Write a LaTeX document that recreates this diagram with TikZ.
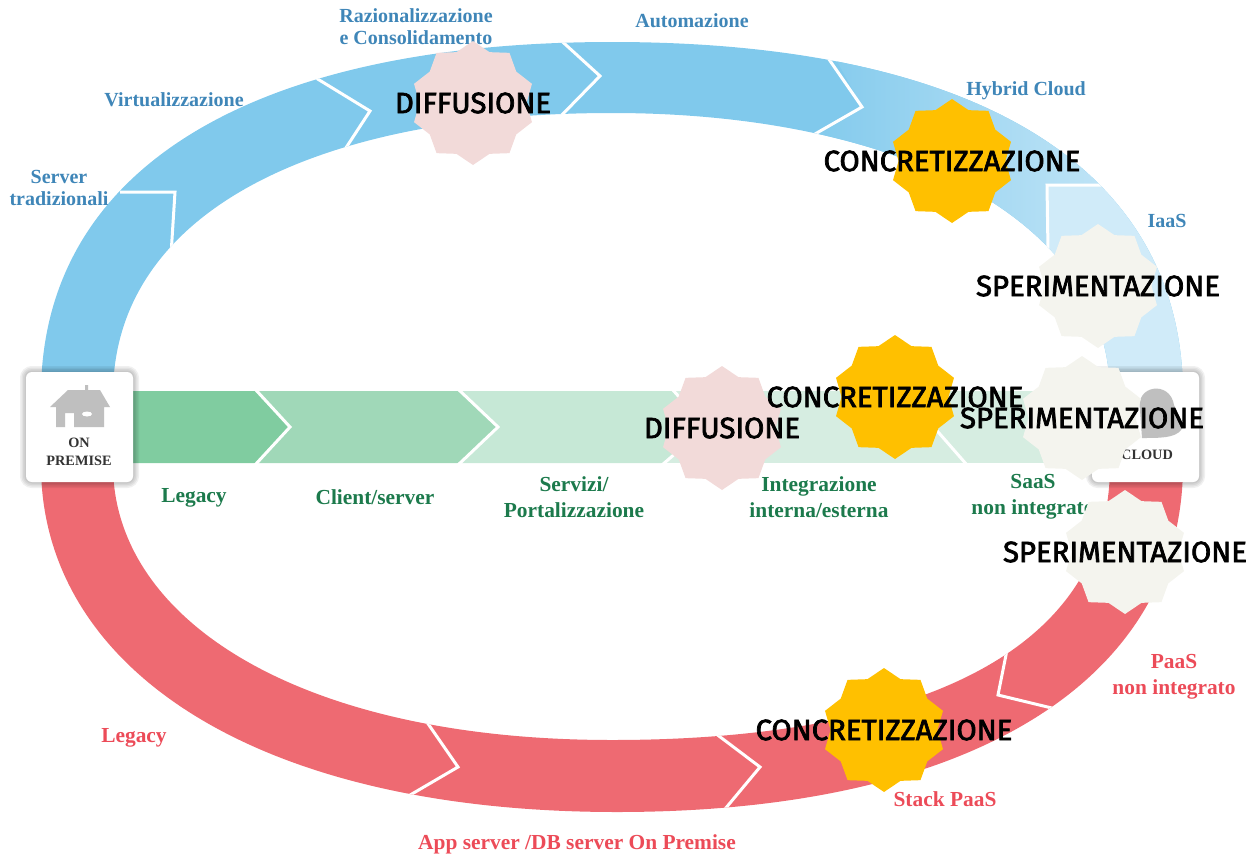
\documentclass[tikz,border=0pt]{standalone}
\usepackage{fontspec}
\setmainfont{Liberation Serif}
\newfontfamily\starfont[FakeBold=2.5]{Fira Sans}
\usetikzlibrary{%
  positioning
 ,shapes.geometric
}
\definecolor{ringblue}{HTML}{80C9EC}
\definecolor{ringpale}{HTML}{D0EBF9}
\definecolor{ringred}{HTML}{EE6A72}
\definecolor{greenA}{HTML}{80CCA0}
\definecolor{greenB}{HTML}{A0D8B8}
\definecolor{greenC}{HTML}{C6E8D6}
\definecolor{greenD}{HTML}{D6EDE1}
\definecolor{txtblue}{HTML}{3F86B8}
\definecolor{txtgreen}{HTML}{1C7A4C}
\definecolor{txtred}{HTML}{EC4B58}
\definecolor{starpink}{HTML}{F2DAD9}
\definecolor{staryellow}{HTML}{FFC000}
\definecolor{stargrey}{HTML}{F4F4EE}
\tikzstyle{st}=[star,star points=10,star point ratio=1.16,minimum size=124pt,inner sep=0pt,draw=none]
\tikzstyle{stxt}=[font=\starfont\fontsize{29.3}{30}\selectfont,text=black,inner sep=0pt]
\tikzstyle{lblue}=[font=\bfseries\fontsize{20}{22}\selectfont,text=txtblue,align=center,inner sep=0pt]
\tikzstyle{lgreen}=[font=\bfseries\fontsize{21.4}{26}\selectfont,text=txtgreen,align=center,inner sep=0pt]
\tikzstyle{lred}=[font=\bfseries\fontsize{21.4}{26}\selectfont,text=txtred,align=center,inner sep=0pt]
\tikzstyle{chev}=[draw=white,line width=3pt,line join=miter]
\tikzstyle{bx}=[rounded corners=6pt]
\newcommand{\bandup}{(41,395) .. controls (41,170) and (250,42) .. (612,42) .. controls (980,42) and (1183,170) .. (1183,395) -- (1110,395) .. controls (1110,220) and (900,113) .. (612,113) .. controls (310,113) and (113,215) .. (113,395) -- cycle}
\newcommand{\banddown}{(41,465) .. controls (41,665) and (250,812) .. (617,812) .. controls (980,812) and (1183,675) .. (1183,465) -- (1110,465) .. controls (1110,670) and (880,740) .. (612,740) .. controls (300,740) and (113,620) .. (113,465) -- cycle}
\newcommand{\softbox}[4]{% x1,y1,x2,y2
  \foreach \w in {3,6,9,12}
    \draw[bx,draw=black,opacity=.06,line width=\w pt] (#1,#2) rectangle (#3,#4);
  \fill[bx,white] (#1,#2) rectangle (#3,#4);
}
\begin{document}
\begin{tikzpicture}[x=1pt,y=-1pt]
  \useasboundingbox (0,0) rectangle (1251,855);
  % the upper ring
  \fill[ringblue] \bandup;
  \begin{scope}
    \clip \bandup;
    \shade[left color=ringblue,right color=ringpale!85!ringblue,shading angle=90]
      (820,30) -- (862,107) -- (800,143) -- (1048,270) -- (1047,185) -- (1130,185) -- (1130,30) -- cycle;
    \fill[ringpale] (1047,185) -- (1210,185) -- (1210,430) -- (1048,430) -- cycle;
    \draw[chev] (120,192) -- (175,192) -- (171,255);
    \draw[chev] (316,78) -- (370,111) -- (338,160);
    \draw[chev] (555,35) -- (600,76) -- (555,122);
    \draw[chev] (826,55) -- (862,107) -- (808,138);
    \draw[chev] (1105,185) -- (1047,185) -- (1048,250);
  \end{scope}
  % the lower ring
  \fill[ringred] \banddown;
  \begin{scope}
    \clip \banddown;
    \draw[chev] (422,715) -- (458,767) -- (405,798);
    \draw[chev] (707,727) -- (760,767) -- (720,815);
    \draw[chev] (1010,635) -- (998,695) -- (1060,710);
  \end{scope}
  % the green arrow
  \fill[greenD] (660,391) -- (1050,391) -- (1050,463) -- (660,463) -- cycle;
  \fill[greenC] (458,391) -- (672,391) -- (706,427) -- (664,463) -- (458,463) -- (498,427) -- cycle;
  \fill[greenB] (255,391) -- (458,391) -- (498,427) -- (458,463) -- (255,463) -- (290,427) -- cycle;
  \fill[greenA] (120,391) -- (255,391) -- (290,427) -- (255,463) -- (120,463) -- cycle;
  \draw[chev] (255,389) -- (290,427) -- (255,465);
  \draw[chev] (458,389) -- (498,427) -- (458,465);
  \draw[chev] (672,389) -- (706,427) -- (662,465);
  \draw[chev] (932,425) -- (967,465);
  % the boxes
  \softbox{26}{372}{133}{482}
  \softbox{1092}{372}{1199}{482}
  \fill[black!25] (85,385) -- (88,385) -- (88,390) -- (100,390) -- (110,407) -- (104,407) -- (104,427)
    -- (74,427) -- (74,413) -- (65,413) -- (65,427) -- (56,427) -- (56,407) -- (50,407) -- (68,390) -- (85,390) -- cycle;
  \fill[white] (87,414) ellipse (5 and 2.5);
  \node[font=\bfseries\fontsize{14.3}{18}\selectfont,text=black!80,align=center,inner sep=0pt] (onprem) at (79,452) {ON\\PREMISE};
  \fill[black!25] (1142,438) -- (1140,410) .. controls (1135,385) and (1170,380) .. (1174,405)
    .. controls (1178,415) and (1186,425) .. (1181,430) .. controls (1175,438) and (1160,438) .. (1142,438) -- cycle;
  \node[font=\bfseries\fontsize{14.3}{18}\selectfont,text=black!80,inner sep=0pt] (cloud) at (1147,455) {CLOUD};
  % the labels
  \node[lblue] (srv) at (59,188) {Server\\tradizionali};
  \node[lblue] (virt) at (174,100) {Virtualizzazione};
  \node[lblue] (raz) at (416,27) {Razionalizzazione\\e Consolidamento};
  \node[lblue] (auto) at (692,21) {Automazione};
  \node[lblue] (hyb) at (1026,91) {Hybrid Cloud};
  \node[lblue] (iaas) at (1167,221) {IaaS};
  \node[lgreen] (leg) at (194,498) {Legacy};
  \node[lgreen] (cs) at (375,497) {Client/server};
  \node[lgreen] (serv) at (574,497) {Servizi/\\Portalizzazione};
  \node[lgreen] (integ) at (819,497) {Integrazione\\interna/esterna};
  \node[lgreen] (saas) at (1033,497) {SaaS\\non integrato};
  \node[lred] (legr) at (134,738) {Legacy};
  \node[lred] (app) at (577,844) {App server /DB server On Premise};
  \node[lred] (stack) at (945,799) {Stack PaaS};
  \node[lred] (paas) at (1174,677) {PaaS\\non integrato};
  % the stars
  \node[st,fill=starpink] (s1) at (473,103) {};
  \node[stxt] at (s1) {DIFFUSIONE};
  \node[st,fill=staryellow] (s2) at (952,161) {};
  \node[stxt] at (s2) {CONCRETIZZAZIONE};
  \node[st,fill=stargrey] (s3) at (1098,286) {};
  \node[stxt] at (s3) {SPERIMENTAZIONE};
  \node[st,fill=starpink] (s4) at (722,428) {};
  \node[stxt] at (s4) {DIFFUSIONE};
  \node[st,fill=staryellow] (s5) at (895,397) {};
  \node[stxt] at (s5) {CONCRETIZZAZIONE};
  \node[st,fill=stargrey] (s6) at (1082,418) {};
  \node[stxt] at (s6) {SPERIMENTAZIONE};
  \node[st,fill=stargrey] (s7) at (1125,552) {};
  \node[stxt] at (s7) {SPERIMENTAZIONE};
  \node[st,fill=staryellow] (s8) at (884,730) {};
  \node[stxt] at (s8) {CONCRETIZZAZIONE};
\end{tikzpicture}
\end{document}
